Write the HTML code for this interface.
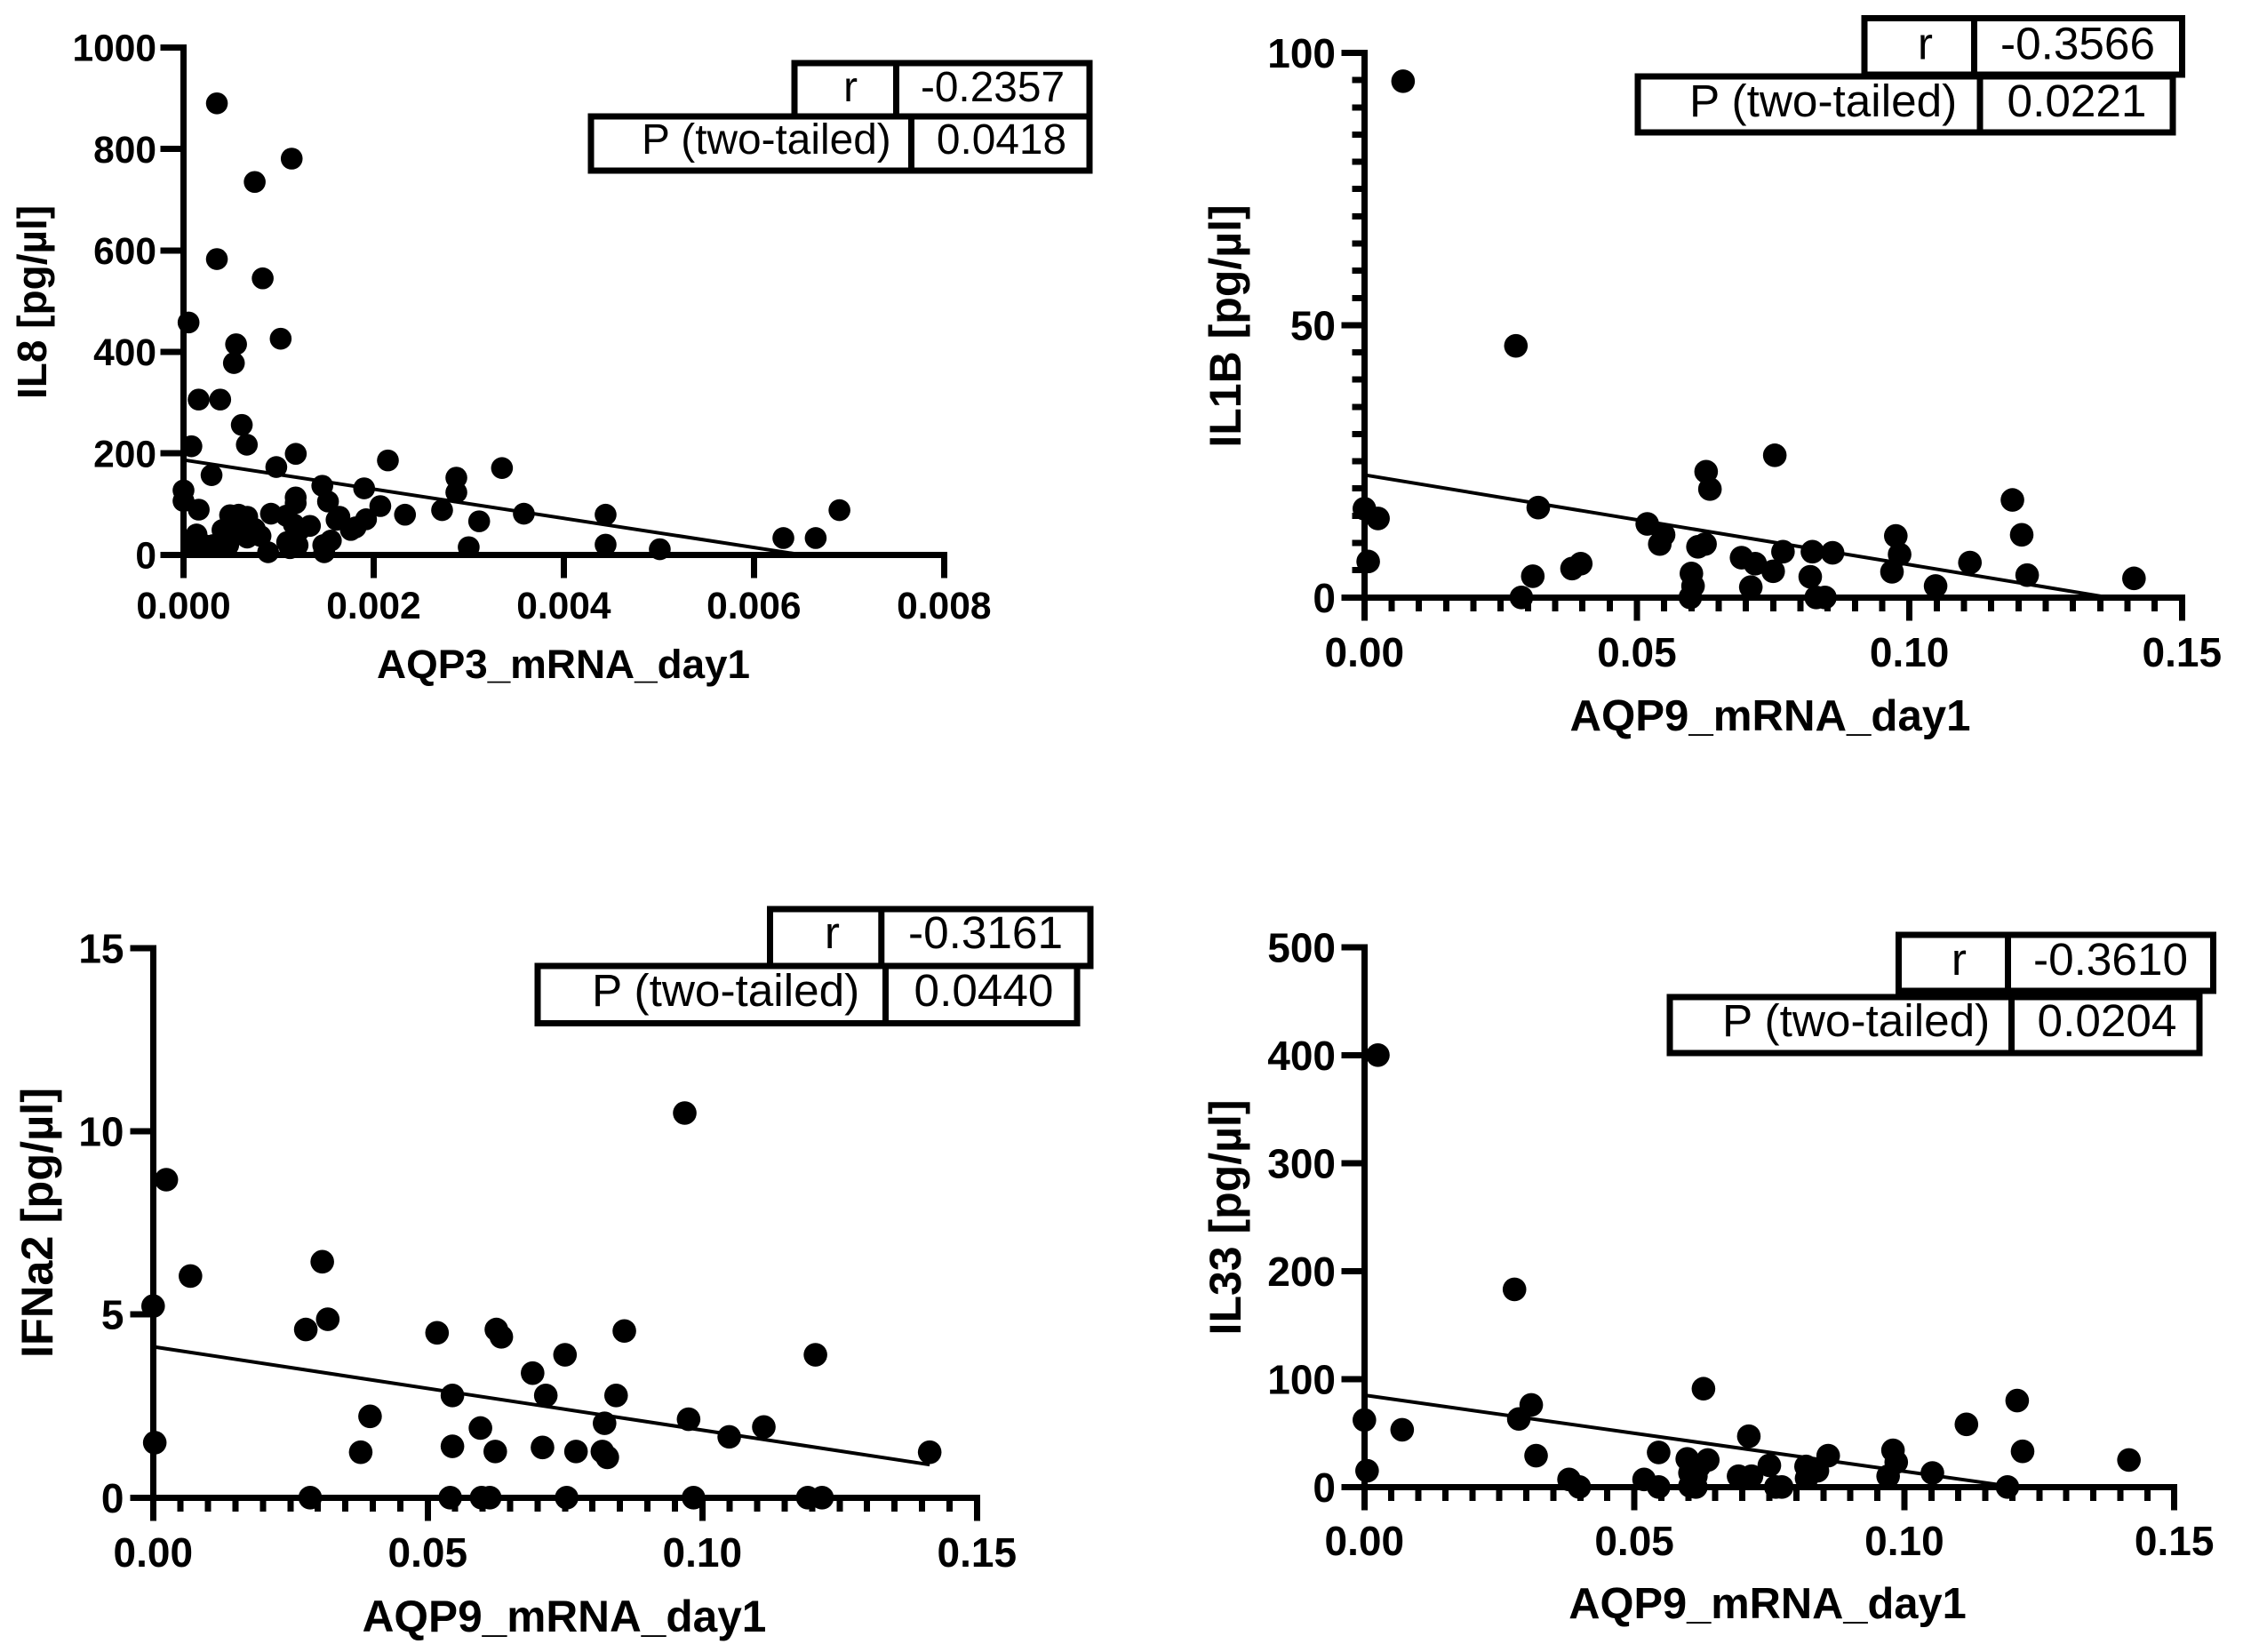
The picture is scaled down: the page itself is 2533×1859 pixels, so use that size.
<!DOCTYPE html>
<html lang="en">
<head>
<meta charset="utf-8">
<title>AQP mRNA vs cytokine correlations</title>
<style>
html,body{margin:0;padding:0;background:#fff;}
svg{display:block;}
text{font-family:"Liberation Sans",Arial,sans-serif;fill:#000;}
.tick{font-weight:bold;}
.title{font-weight:bold;}
.cell{fill:none;stroke:#000;stroke-width:7;shape-rendering:crispEdges;}
</style>
</head>
<body>
<svg id="figure" xmlns="http://www.w3.org/2000/svg" width="2533" height="1859" viewBox="0 0 2533 1859">
<rect x="0" y="0" width="2533" height="1859" fill="#fff"/>

<g id="panel-il8">
<text class="title" font-size="46" text-anchor="middle" transform="translate(52 340) rotate(-90)">IL8 [pg/µl]</text>
<text class="title" font-size="45.8" text-anchor="middle" x="634" y="763">AQP3_mRNA_day1</text>
</g>
<g>
<rect class="cell" x="894" y="71" width="332" height="60"/>
<rect class="cell" x="665" y="131" width="561" height="61"/>
<rect x="1005" y="71" width="7" height="60"/>
<rect x="1022" y="131" width="7" height="61"/>
<text font-size="47.8" text-anchor="end" x="965" y="114">r</text>
<text font-size="47.8" text-anchor="middle" x="1117" y="114">-0.2357</text>
<text font-size="47.8" x="722" y="173">P (two-tailed)</text>
<text font-size="47.8" text-anchor="middle" x="1127" y="173">0.0418</text>
</g>

<g id="panel-il1b">
<text class="title" font-size="50" text-anchor="middle" transform="translate(1396 367) rotate(-90)">IL1B [pg/µl]</text>
<text class="title" font-size="49.2" text-anchor="middle" x="1992" y="822">AQP9_mRNA_day1</text>
</g>
<g>
<rect class="cell" x="2098" y="20.5" width="357.5" height="63.5"/>
<rect class="cell" x="1843" y="86" width="602" height="63"/>
<rect x="2218" y="20" width="7" height="64"/>
<rect x="2224.5" y="86" width="7" height="63"/>
<text font-size="51.3" text-anchor="end" x="2175" y="66.5">r</text>
<text font-size="51.3" text-anchor="middle" x="2338" y="66.5">-0.3566</text>
<text font-size="51.3" x="1901" y="131">P (two-tailed)</text>
<text font-size="51.3" text-anchor="middle" x="2337" y="131">0.0221</text>
</g>

<g id="panel-ifna2">
<text class="title" font-size="50.5" text-anchor="middle" transform="translate(59 1376) rotate(-90)">IFNa2 [pg/µl]</text>
<text class="title" font-size="49.6" text-anchor="middle" x="635" y="1836">AQP9_mRNA_day1</text>
</g>
<g>
<rect class="cell" x="866.7" y="1023" width="360.5" height="64"/>
<rect class="cell" x="605" y="1087" width="607" height="64.5"/>
<rect x="988.3" y="1023" width="7" height="64"/>
<rect x="993" y="1087" width="7" height="64.5"/>
<text font-size="51.3" text-anchor="end" x="945" y="1067">r</text>
<text font-size="51.3" text-anchor="middle" x="1109" y="1067">-0.3161</text>
<text font-size="51.3" x="666" y="1132">P (two-tailed)</text>
<text font-size="51.3" text-anchor="middle" x="1107" y="1132">0.0440</text>
</g>

<g id="panel-il33">
<text class="title" font-size="50" text-anchor="middle" transform="translate(1396 1370) rotate(-90)">IL33 [pg/µl]</text>
<text class="title" font-size="48.8" text-anchor="middle" x="1989" y="1821">AQP9_mRNA_day1</text>
</g>
<g>
<rect class="cell" x="2136.5" y="1052" width="354" height="63"/>
<rect class="cell" x="1879" y="1122" width="596" height="63"/>
<rect x="2256" y="1052" width="7" height="63"/>
<rect x="2260" y="1122" width="7" height="63"/>
<text font-size="51.3" text-anchor="end" x="2213" y="1097">r</text>
<text font-size="51.3" text-anchor="middle" x="2375" y="1097">-0.3610</text>
<text font-size="51.3" x="1938" y="1166">P (two-tailed)</text>
<text font-size="51.3" text-anchor="middle" x="2371" y="1166">0.0204</text>
</g>
</svg>

<script>
// ---- IL8 vs AQP3 ----
const il8XTicks = [0, 0.002, 0.004, 0.006, 0.008];
const il8XLabels = ["0.000", "0.002", "0.004", "0.006", "0.008"];
const il8YTicks = [0, 200, 400, 600, 800, 1000];
const il8YLabels = ["0", "200", "400", "600", "800", "1000"];
const il8XMinor = [];
const il8YMinor = [];
const il8LineX = [0, 0.0065];
const il8LineY = [187, 0];
const il8X = [0.000351,0.001138,0.000749,0.000351,0.000833,0.000053,0.001022,0.000553,0.00053,0.000159,0.000386,0.000613,0.000083,0.000666,0.001181,0.000976,0.000295,0.00215,0.00335,0.00287,0.00287,0,0,0.00016,0.00146,0.00152,0.00118,0.00118,0.0019,0.00207,0.00192,0.00233,0.00272,0.00311,0.00358,0.00444,0.00444,0.00501,0.003,0.00631,0.00665,0.0069,0.000137,0.00022,0.00031,0.00011,0.00041,0.00049,0.00058,0.00067,0.00047,0.00042,0.00067,0.00061,0.00075,0.00081,0.00089,0.00092,0.00108,0.00112,0.00109,0.0012,0.00133,0.00122,0.00116,0.00147,0.00148,0.00155,0.00164,0.00161,0.00176,0.00181];
const il8Y = [890,781,735,583,545,458,426,415,378,306,306,256,214,217,199,173,157,186,171,152,123,127,106,89,136,105,113,102,131,96,70,79,88,66,81,79,20,11,15,33,33,88,40,19,19,19,49,78,79,75,19,25,34,46,51,37,5,81,77,13,25,19,57,49,60,19,5,28,75,69,49,54];

// ---- IL1B vs AQP9 ----
const il1bXTicks = [0, 0.05, 0.10, 0.15];
const il1bXLabels = ["0.00", "0.05", "0.10", "0.15"];
const il1bYTicks = [0, 50, 100];
const il1bYLabels = ["0", "50", "100"];
const il1bXMinor = [0.005,0.01,0.015,0.02,0.025,0.03,0.035,0.04,0.045,0.055,0.06,0.065,0.07,0.075,0.08,0.085,0.09,0.095,0.105,0.11,0.115,0.12,0.125,0.13,0.135,0.14,0.145];
const il1bYMinor = [5,10,15,20,25,30,35,40,45,55,60,65,70,75,80,85,90,95];
const il1bLineX = [0, 0.1365];
const il1bLineY = [22.5, 0];
const il1bX = [0.0071,0.0278,0.0753,0.0627,0.0634,0.1189,0,0.0025,0.0319,0.0519,0.0549,0.0542,0.0612,0.0625,0.0975,0.0982,0.1206,0.0768,0.0822,0.0859,0.0692,0.0717,0.075,0.0968,0.1111,0.1216,0.1412,0.0007,0.0309,0.0381,0.0397,0.06,0.0603,0.0598,0.0709,0.0818,0.1048,0.0288,0.0829,0.0845];
const il1bY = [94.8,46.2,26.1,23.1,19.9,17.9,16.3,14.5,16.5,13.5,11.5,9.8,9.3,9.8,11.3,7.9,11.5,8.4,8.4,8.2,7.3,6.2,4.8,4.7,6.4,4.1,3.5,6.6,3.9,5.3,6.2,4.4,2.1,0,1.9,3.8,2.1,0,0,0];

// ---- IFNa2 vs AQP9 ----
const ifnXTicks = [0, 0.05, 0.10, 0.15];
const ifnXLabels = ["0.00", "0.05", "0.10", "0.15"];
const ifnYTicks = [0, 5, 10, 15];
const ifnYLabels = ["0", "5", "10", "15"];
const ifnXMinor = [0.005,0.01,0.015,0.02,0.025,0.03,0.035,0.04,0.045,0.055,0.06,0.065,0.07,0.075,0.08,0.085,0.09,0.095,0.105,0.11,0.115,0.12,0.125,0.13,0.135,0.14,0.145];
const ifnYMinor = [];
const ifnLineX = [0, 0.1414];
const ifnLineY = [4.12, 0.9];
const ifnX = [0.0968,0.0024,0.0068,0.0308,0,0.0318,0.0278,0.0517,0.0625,0.0634,0.0858,0.075,0.1206,0.0691,0.0715,0.0545,0.0843,0.0395,0.0596,0.0822,0.0975,0.1049,0.1112,0.0003,0.0378,0.0545,0.0623,0.0709,0.077,0.0818,0.0827,0.1414,0.0286,0.0541,0.0598,0.0613,0.0753,0.0984,0.1192,0.1218];
const ifnY = [10.5,8.68,6.05,6.44,5.23,4.87,4.59,4.5,4.59,4.39,4.55,3.9,3.9,3.4,2.79,2.79,2.79,2.22,1.9,2.03,2.14,1.66,1.93,1.5,1.24,1.4,1.26,1.37,1.26,1.26,1.1,1.24,0,0,0,0,0,0,0,0];

// ---- IL33 vs AQP9 ----
const il33XTicks = [0, 0.05, 0.10, 0.15];
const il33XLabels = ["0.00", "0.05", "0.10", "0.15"];
const il33YTicks = [0, 100, 200, 300, 400, 500];
const il33YLabels = ["0", "100", "200", "300", "400", "500"];
const il33XMinor = [0.005,0.01,0.015,0.02,0.025,0.03,0.035,0.04,0.045,0.055,0.06,0.065,0.07,0.075,0.08,0.085,0.09,0.095,0.105,0.11,0.115,0.12,0.125,0.13,0.135,0.14,0.145];
const il33YMinor = [];
const il33LineX = [0, 0.1205];
const il33LineY = [85, 0];
const il33X = [0.0025,0.0278,0.0628,0.1209,0.0309,0,0.0286,0.007,0.1115,0.0712,0.0979,0.1219,0.0545,0.0318,0.0985,0.0859,0.0636,0.0598,0.1416,0.075,0.0818,0.062,0.0839,0.0005,0.0603,0.1052,0.097,0.0693,0.0717,0.0379,0.0518,0.0819,0.0614,0.0398,0.0545,0.0614,0.0762,0.0773,0.1191,0.0603];
const il33Y = [400,183,91,80,76,62,63,53,58,47,34,33,32,29,23,29,25,26,25,20,19,19,15,15,13,13,10,10,10,7,7,8,10,0,0,0,0,0,0,1];

// Axis geometry for each panel (screen frame, not data)
const frames = [
  {id:"panel-il8",  name:"il8",  left:206.5, right:1062.3, bottom:624.3, top:53.5,  xMax:0.008, yMax:1000, r:12.3, font:42.5, labelEnd:176,  xBase:696,
   xt:il8XTicks, xl:il8XLabels, yt:il8YTicks, yl:il8YLabels, xm:il8XMinor, ym:il8YMinor, lx:il8LineX, ly:il8LineY, px:il8X, py:il8Y},
  {id:"panel-il1b", name:"il1b", left:1535.3, right:2455.3, bottom:672.3, top:59.5, xMax:0.15, yMax:100, r:13.3, font:46, labelEnd:1503, xBase:750,
   xt:il1bXTicks, xl:il1bXLabels, yt:il1bYTicks, yl:il1bYLabels, xm:il1bXMinor, ym:il1bYMinor, lx:il1bLineX, ly:il1bLineY, px:il1bX, py:il1bY},
  {id:"panel-ifna2",name:"ifna2",left:172.3, right:1099.3, bottom:1685.3, top:1067, xMax:0.15, yMax:15, r:13.3, font:46, labelEnd:139.5, xBase:1763,
   xt:ifnXTicks, xl:ifnXLabels, yt:ifnYTicks, yl:ifnYLabels, xm:ifnXMinor, ym:ifnYMinor, lx:ifnLineX, ly:ifnLineY, px:ifnX, py:ifnY},
  {id:"panel-il33", name:"il33", left:1535.3, right:2446.7, bottom:1673.3, top:1065.8, xMax:0.15, yMax:500, r:13.3, font:46, labelEnd:1503, xBase:1750,
   xt:il33XTicks, xl:il33XLabels, yt:il33YTicks, yl:il33YLabels, xm:il33XMinor, ym:il33YMinor, lx:il33LineX, ly:il33LineY, px:il33X, py:il33Y}
];

const NS = "http://www.w3.org/2000/svg";

function addLine(parent, name, x1, y1, x2, y2, w, crisp) {
  const el = document.createElementNS(NS, "line");
  
  
  el.setAttribute("x1", x1);
  el.setAttribute("y1", y1);
  el.setAttribute("x2", x2);
  el.setAttribute("y2", y2);
  el.setAttribute("stroke", "#000");
  el.setAttribute("stroke-width", w);
  if (crisp) el.setAttribute("shape-rendering", "crispEdges");
  parent.appendChild(el);
}

function addLabel(parent, name, str, x, y, size, anchor) {
  const el = document.createElementNS(NS, "text");
  
  
  el.setAttribute("class", "tick");
  el.setAttribute("x", x);
  el.setAttribute("y", y);
  el.setAttribute("font-size", size);
  el.setAttribute("text-anchor", anchor);
  el.textContent = str;
  parent.appendChild(el);
}

function drawPanel(f) {
  const g = document.getElementById(f.id);
  const sx = v => f.left + (v / f.xMax) * (f.right - f.left);
  const sy = v => f.bottom - (v / f.yMax) * (f.bottom - f.top);
  const capH = f.font * 0.358;

  addLine(g, f.name + "-y-axis", f.left, sy(f.yMax) - 3.5, f.left, f.bottom + 26, 7, true);
  addLine(g, f.name + "-x-axis", f.left - 26, f.bottom, f.right + 3.5, f.bottom, 7, true);

  f.yt.forEach((v, i) => {
    addLine(g, f.name + "-y-tick", f.left - 26, sy(v), f.left, sy(v), 7, true);
    addLabel(g, f.name + "-y-tick-label", f.yl[i], f.labelEnd, sy(v) + capH, f.font, "end");
  });
  f.xt.forEach((v, i) => {
    addLine(g, f.name + "-x-tick", sx(v), f.bottom, sx(v), f.bottom + 26, 7, true);
    addLabel(g, f.name + "-x-tick-label", f.xl[i], sx(v), f.xBase, f.font, "middle");
  });
  f.xm.forEach(v => {
    addLine(g, f.name + "-x-minor-tick", sx(v), f.bottom, sx(v), f.bottom + 15.5, 7, true);
  });
  f.ym.forEach(v => {
    addLine(g, f.name + "-y-minor-tick", f.left - 14, sy(v), f.left, sy(v), 7, true);
  });

  addLine(g, f.name + "-regression-line", sx(f.lx[0]), sy(f.ly[0]), sx(f.lx[1]), sy(f.ly[1]), 4, false);

  f.px.forEach((v, i) => {
    const c = document.createElementNS(NS, "circle");
    
    
    c.setAttribute("cx", sx(v));
    c.setAttribute("cy", sy(f.py[i]));
    c.setAttribute("r", f.r);
    c.setAttribute("fill", "#000");
    g.appendChild(c);
  });
}

frames.forEach(drawPanel);
</script>
</body>
</html>
